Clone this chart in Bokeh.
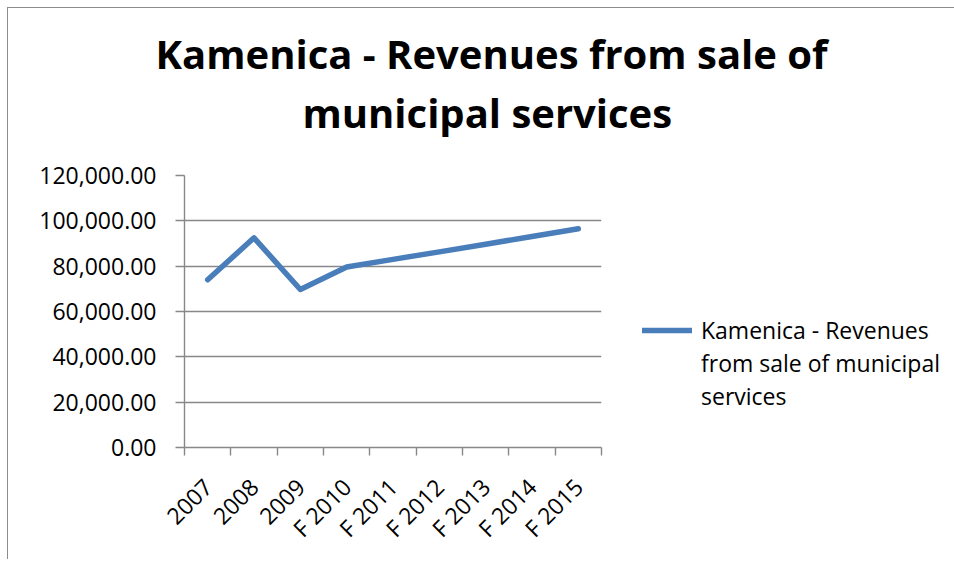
from math import pi
from bokeh.plotting import figure
from bokeh.models import Range1d, FixedTicker, NumeralTickFormatter, Title, Legend, LegendItem
from bokeh.embed import file_html
from bokeh.resources import INLINE

# ---- data ----
categories = ["2007", "2008", "2009", "F 2010", "F 2011", "F 2012", "F 2013", "F 2014", "F 2015"]
revenues = [74000, 92500, 69700, 79600, 83000, 86300, 89700, 93100, 96500]
legend_lines = ["Kamenica - Revenues", "from sale of municipal", "services"]
title_lines = ["Kamenica - Revenues from sale of", "municipal services"]
y_ticks = [0, 20000, 40000, 60000, 80000, 100000, 120000]

FONT = "Open Sans"
GREY = "#888888"
BLUE = "#4A7EBB"

p = figure(frame_width=417, frame_height=272, output_backend="svg", toolbar_location=None, title=None,
           x_range=Range1d(0, len(categories)), y_range=Range1d(y_ticks[0], y_ticks[-1]),
           min_border_left=184, min_border_right=12, min_border_top=175, min_border_bottom=112)
p.outline_line_color = None
p.background_fill_color = "white"
p.border_fill_alpha = 0
# chart-area border (left and top edges, as in the reference)
p.styles = {"background-color": "white",
            "box-shadow": "inset 7px 7px 0 0 white, inset 8px 8px 0 0 #8c8c8c"}

xs = [i + 0.5 for i in range(len(categories))]
r = p.line(xs, revenues, line_color=BLUE, line_width=5.5, line_cap="round", line_join="round")
# invisible helper so that the wrapped legend text lines carry no sample of their own
blank = p.line([], [], line_alpha=0)

# grid
p.xgrid.visible = False
p.ygrid.grid_line_color = GREY
p.ygrid.grid_line_width = 1.4
p.ygrid.ticker = FixedTicker(ticks=y_ticks)

# y axis
ya = p.yaxis[0]
ya.ticker = FixedTicker(ticks=y_ticks)
ya.formatter = NumeralTickFormatter(format="0,0.00")
ya.axis_line_color = GREY
ya.axis_line_width = 1.4
ya.major_tick_line_color = GREY
ya.major_tick_line_width = 1.4
ya.major_tick_out = 9
ya.major_tick_in = 0
ya.minor_tick_out = 0
ya.minor_tick_in = 0
ya.major_label_standoff = 19
ya.major_label_text_font = FONT
ya.major_label_text_font_size = "23px"
ya.major_label_text_color = "black"

# x axis
xa = p.xaxis[0]
xa.ticker = FixedTicker(ticks=xs, minor_ticks=list(range(len(categories) + 1)))
xa.major_label_overrides = {x: c for x, c in zip(xs, categories)}
xa.axis_line_color = GREY
xa.axis_line_width = 1.4
xa.major_tick_out = 0
xa.major_tick_in = 0
xa.minor_tick_out = 8
xa.minor_tick_in = 0
xa.minor_tick_line_color = GREY
xa.minor_tick_line_width = 1.4
xa.major_label_orientation = pi / 4
xa.major_label_standoff = 27
xa.major_label_text_font = FONT
xa.major_label_text_font_size = "23px"
xa.major_label_text_color = "black"

# title (two lines) + spacer between title and plot area
spacer = Title(text=" ", text_font_size="1px", standoff=33)
t2 = Title(text=title_lines[1], align="left", offset=118, standoff=0,
           text_font=FONT, text_font_style="bold", text_font_size="40px", text_color="black")
t1 = Title(text=title_lines[0], align="left", offset=-29, standoff=4,
           text_font=FONT, text_font_style="bold", text_font_size="40px", text_color="black")
p.add_layout(spacer, "above")
p.add_layout(t2, "above")
p.add_layout(t1, "above")

# legend
items = [LegendItem(label=legend_lines[0], renderers=[r])]
items += [LegendItem(label=t, renderers=[blank]) for t in legend_lines[1:]]
legend = Legend(items=items, location=(41, 35), glyph_width=50, glyph_height=20,
                label_standoff=9, label_height=20, spacing=1,
                padding=0, margin=0, border_line_color=None, background_fill_alpha=0,
                label_text_font=FONT, label_text_font_size="23px", label_text_color="black")
p.add_layout(legend, "right")

open("out.html", "w").write(file_html(p, INLINE))
